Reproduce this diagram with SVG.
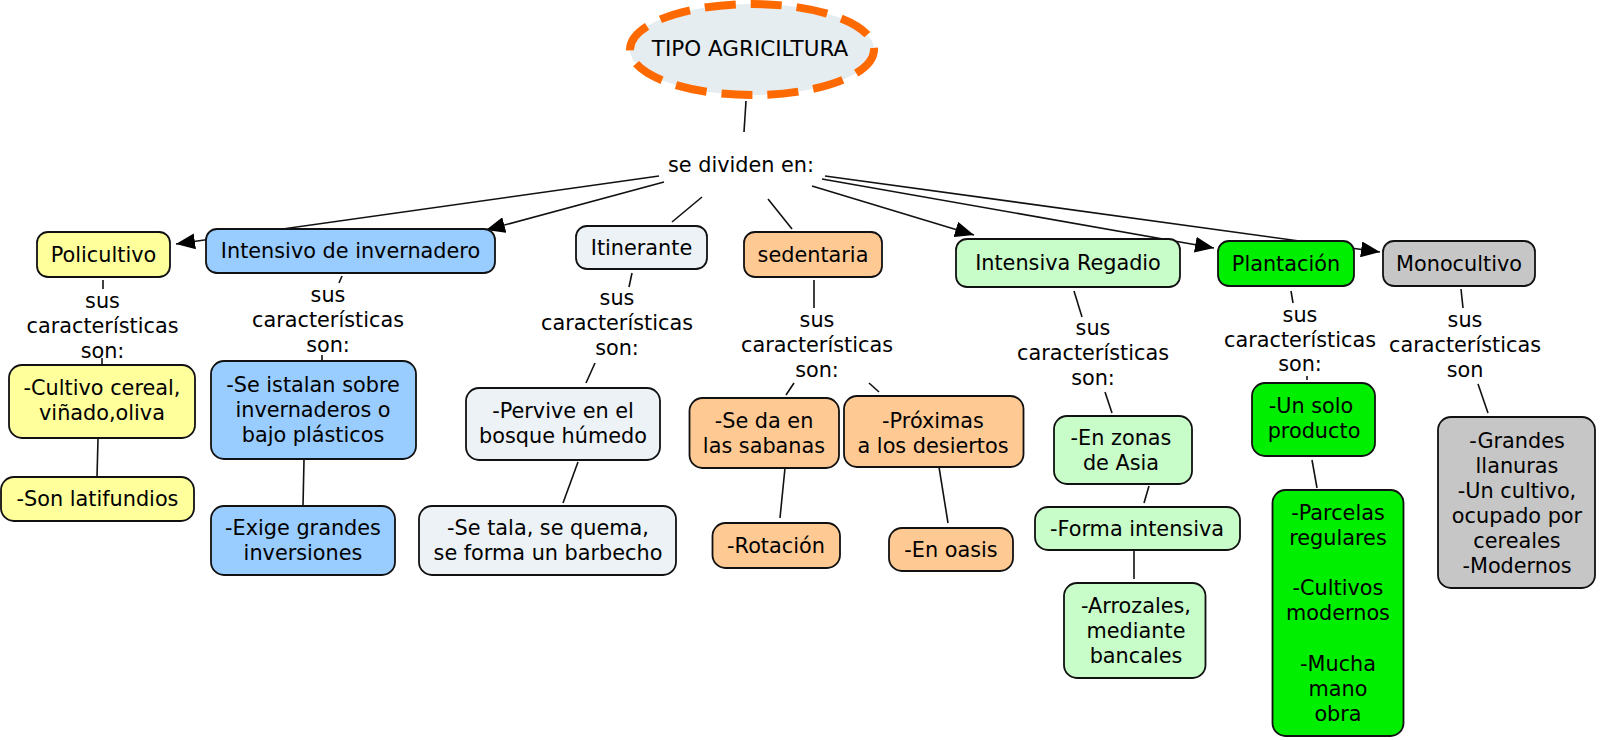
<svg xmlns="http://www.w3.org/2000/svg" width="1600" height="740" viewBox="0 0 1600 740">
<defs>
<marker id="arr" markerUnits="userSpaceOnUse" markerWidth="20" markerHeight="16" refX="19" refY="8" orient="auto">
<path d="M0,0 L19,8 L0,16 z" fill="#000"/>
</marker>
<style>
text{font-family:"DejaVu Sans",Verdana,"Liberation Sans",sans-serif;font-size:20.8px;fill:#000;text-anchor:middle}
.b{stroke:#111;stroke-width:1.8}
.c{stroke:#111;stroke-width:1.6;fill:none}
.a{marker-end:url(#arr)}
.y{fill:#ffff9c}
.bl{fill:#99ccff}
.it{fill:#ecf2f5}
.se{fill:#ffc993}
.ir{fill:#c8fcc8}
.pl{fill:#00ee00}
.mo{fill:#c6c6c6}
</style>
</defs>
<rect width="1600" height="740" fill="#fff"/>
<g id="connectors">
<line class="c" x1="746" y1="101" x2="744" y2="132"/>
<line class="c a" x1="659" y1="176" x2="176" y2="244"/>
<line class="c a" x1="664" y1="182" x2="486" y2="230"/>
<line class="c" x1="702" y1="197" x2="672" y2="222"/>
<line class="c" x1="768" y1="199" x2="792" y2="229"/>
<line class="c a" x1="812" y1="186" x2="974" y2="235"/>
<line class="c a" x1="822" y1="179" x2="1214" y2="248"/>
<line class="c a" x1="825" y1="176" x2="1380" y2="252"/>
<line class="c" x1="103" y1="280" x2="103" y2="289"/>
<line class="c" x1="102" y1="358" x2="102" y2="365"/>
<line class="c" x1="98" y1="439" x2="97" y2="477"/>
<line class="c" x1="342" y1="276" x2="339" y2="283"/>
<line class="c" x1="322" y1="355" x2="322" y2="361"/>
<line class="c" x1="304" y1="460" x2="303" y2="506"/>
<line class="c" x1="632" y1="273" x2="629" y2="287"/>
<line class="c" x1="595" y1="363" x2="586" y2="383"/>
<line class="c" x1="578" y1="462" x2="563" y2="503"/>
<line class="c" x1="814" y1="280" x2="814" y2="308"/>
<line class="c" x1="794" y1="383" x2="786" y2="395"/>
<line class="c" x1="869" y1="383" x2="879" y2="392"/>
<line class="c" x1="785" y1="468" x2="780" y2="518"/>
<line class="c" x1="939" y1="467" x2="948" y2="523"/>
<line class="c" x1="1074" y1="291" x2="1082" y2="317"/>
<line class="c" x1="1105" y1="392" x2="1112" y2="413"/>
<line class="c" x1="1149" y1="486" x2="1144" y2="503"/>
<line class="c" x1="1134" y1="551" x2="1134" y2="579"/>
<line class="c" x1="1291" y1="291" x2="1293" y2="303"/>
<line class="c" x1="1307" y1="376" x2="1307" y2="380"/>
<line class="c" x1="1312" y1="460" x2="1317" y2="488"/>
<line class="c" x1="1461" y1="289" x2="1463" y2="308"/>
<line class="c" x1="1478" y1="384" x2="1488" y2="413"/>
</g>
<g id="tipo">
<ellipse cx="752" cy="49.5" rx="122" ry="45.5" fill="#e5edf1" stroke="#ff6a00" stroke-width="8" stroke-dasharray="31 15"/>
<text x="750" y="56" style="font-size:21.5px">TIPO AGRICILTURA</text>
</g>
<g id="se-dividen"><text x="741" y="172">se dividen en:</text></g>
<g id="policultivo"><rect class="b y" x="37" y="232" width="133" height="45" rx="11"/><text x="103.5" y="262">Policultivo</text></g>
<g id="intensivo-invernadero"><rect class="b bl" x="206" y="229" width="289" height="44" rx="11"/><text x="350.5" y="258">Intensivo de invernadero</text></g>
<g id="itinerante"><rect class="b it" x="576" y="226" width="131" height="43" rx="11"/><text x="641.5" y="255">Itinerante</text></g>
<g id="sedentaria"><rect class="b se" x="744" y="232" width="138" height="45" rx="11"/><text x="813" y="262">sedentaria</text></g>
<g id="intensiva-regadio"><rect class="b ir" x="956" y="239" width="224" height="48" rx="11"/><text x="1068" y="270">Intensiva Regadio</text></g>
<g id="plantacion"><rect class="b pl" x="1218" y="241" width="136" height="45" rx="11"/><text x="1286" y="271">Plantación</text></g>
<g id="monocultivo"><rect class="b mo" x="1383" y="241" width="152" height="45" rx="11"/><text x="1459" y="271">Monocultivo</text></g>

<g id="lp-policultivo"><text x="102.5" y="308">sus</text><text x="102.5" y="333">características</text><text x="102.5" y="358">son:</text></g>
<g id="lp-invernadero"><text x="328" y="302">sus</text><text x="328" y="327">características</text><text x="328" y="352">son:</text></g>
<g id="lp-itinerante"><text x="617" y="305">sus</text><text x="617" y="330">características</text><text x="617" y="355">son:</text></g>
<g id="lp-sedentaria"><text x="817" y="327">sus</text><text x="817" y="352">características</text><text x="817" y="377">son:</text></g>
<g id="lp-regadio"><text x="1093" y="335">sus</text><text x="1093" y="360">características</text><text x="1093" y="385">son:</text></g>
<g id="lp-plantacion"><text x="1300" y="322">sus</text><text x="1300" y="347">características</text><text x="1300" y="371">son:</text></g>
<g id="lp-monocultivo"><text x="1465" y="327">sus</text><text x="1465" y="352">características</text><text x="1465" y="377">son</text></g>

<g id="cultivo-cereal"><rect class="b y" x="9" y="365" width="186" height="73" rx="13"/><text x="102" y="395">-Cultivo cereal,</text><text x="102" y="420">viñado,oliva</text></g>
<g id="son-latifundios"><rect class="b y" x="1" y="477" width="193" height="44" rx="13"/><text x="97.5" y="506">-Son latifundios</text></g>
<g id="se-istalan"><rect class="b bl" x="211" y="361" width="205" height="98" rx="13"/><text x="313" y="392">-Se istalan sobre</text><text x="313" y="417">invernaderos o</text><text x="313" y="442">bajo plásticos</text></g>
<g id="exige"><rect class="b bl" x="211" y="506" width="184" height="69" rx="13"/><text x="303" y="535">-Exige grandes</text><text x="303" y="560">inversiones</text></g>
<g id="pervive"><rect class="b it" x="466" y="388" width="194" height="72" rx="13"/><text x="563" y="418">-Pervive en el</text><text x="563" y="443">bosque húmedo</text></g>
<g id="se-tala"><rect class="b it" x="419" y="506" width="257" height="69" rx="13"/><text x="548" y="535">-Se tala, se quema,</text><text x="548" y="560">se forma un barbecho</text></g>
<g id="se-da"><rect class="b se" x="689.5" y="398" width="149.5" height="70" rx="13"/><text x="764" y="428">-Se da en</text><text x="764" y="453">las sabanas</text></g>
<g id="proximas"><rect class="b se" x="844" y="396" width="179.5" height="71" rx="13"/><text x="933" y="428">-Próximas</text><text x="933" y="453">a los desiertos</text></g>
<g id="rotacion"><rect class="b se" x="712.5" y="523" width="127.5" height="45" rx="13"/><text x="776" y="553">-Rotación</text></g>
<g id="en-oasis"><rect class="b se" x="889" y="528" width="124" height="43" rx="13"/><text x="951" y="557">-En oasis</text></g>
<g id="en-zonas"><rect class="b ir" x="1054" y="416" width="138" height="68" rx="13"/><text x="1121" y="445">-En zonas</text><text x="1121" y="470">de Asia</text></g>
<g id="forma-intensiva"><rect class="b ir" x="1035" y="507" width="205" height="43" rx="13"/><text x="1137" y="536">-Forma intensiva</text></g>
<g id="arrozales"><rect class="b ir" x="1064" y="583" width="141.5" height="95" rx="13"/><text x="1136" y="613">-Arrozales,</text><text x="1136" y="638">mediante</text><text x="1136" y="663">bancales</text></g>
<g id="un-solo"><rect class="b pl" x="1252" y="383" width="123" height="73" rx="13"/><text x="1311" y="413">-Un solo</text><text x="1314" y="438">producto</text></g>
<g id="parcelas"><rect class="b pl" x="1272.5" y="490" width="131" height="246" rx="13"/><text x="1338" y="520">-Parcelas</text><text x="1338" y="545">regulares</text><text x="1338" y="595">-Cultivos</text><text x="1338" y="620">modernos</text><text x="1338" y="671">-Mucha</text><text x="1338" y="696">mano</text><text x="1338" y="721">obra</text></g>
<g id="grandes-llanuras"><rect class="b mo" x="1438" y="417" width="157" height="171" rx="13"/><text x="1517" y="448">-Grandes</text><text x="1517" y="473">llanuras</text><text x="1517" y="498">-Un cultivo,</text><text x="1517" y="523">ocupado por</text><text x="1517" y="548">cereales</text><text x="1517" y="573">-Modernos</text></g>
</svg>
